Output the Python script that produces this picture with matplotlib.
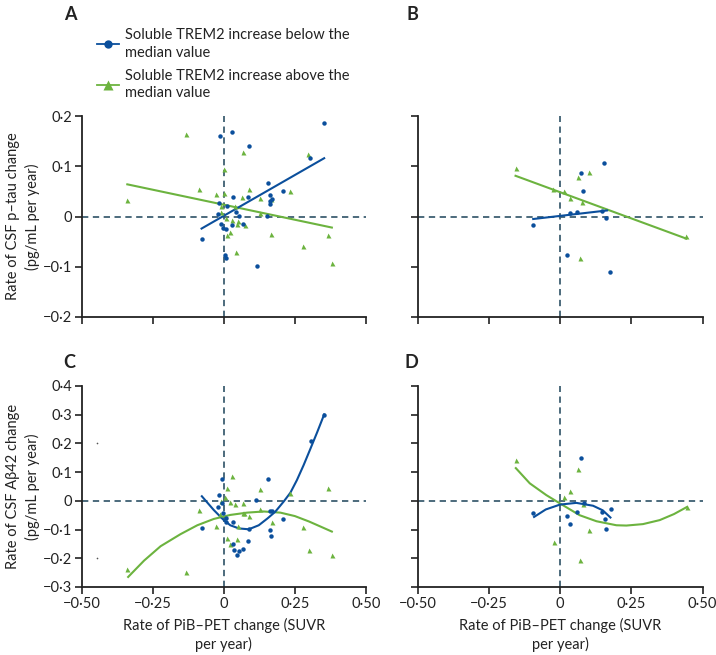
#!/usr/bin/env python3
"""
Four-panel scatter: PiB-PET change vs CSF p-tau / Abeta42 change,
split by soluble TREM2 increase below/above the median.
Saves out.png (716x655).
"""

import matplotlib
matplotlib.use("Agg")
import matplotlib.pyplot as plt
from matplotlib.ticker import FuncFormatter
from matplotlib.lines import Line2D

plt.rcParams["font.family"] = ["Lato", "DejaVu Sans"]

BLUE = "#0b4f9c"
GREEN = "#6cb33f"
REF = "#3e5f72"
SPINE = "#222222"

# ---- Panel A: p-tau, all participants ----
a_blue_x = [-0.014, 0.030, 0.087, 0.353, 0.304, 0.156, 0.208, 0.161, 0.171, 0.164,
            0.164, 0.034, 0.084, -0.018, 0.011, -0.019, 0.044, 0.054, 0.153, -0.009,
            0.030, 0.067, -0.001, 0.007, -0.078, 0.004, 0.008, 0.116]
a_blue_y = [0.160, 0.168, 0.141, 0.187, 0.117, 0.066, 0.050, 0.042, 0.034, 0.030,
            0.024, 0.038, 0.038, 0.026, 0.020, 0.005, 0.009, 0.001, 0.001, -0.014,
            -0.017, -0.014, -0.022, -0.025, -0.044, -0.077, -0.082, -0.099]
a_green_x = [-0.132, -0.339, -0.088, -0.028, 0.002, 0.002, 0.068, 0.088, 0.065, 0.126,
             0.165, 0.233, 0.297, -0.008, 0.041, 0.008, 0.028, 0.050, 0.048, 0.074,
             0.021, 0.011, 0.129, 0.166, 0.043, 0.277, 0.366, 0.380, -0.009]
a_green_y = [0.164, 0.033, 0.055, 0.044, 0.095, 0.047, 0.129, 0.055, 0.039, 0.037,
             0.035, 0.050, 0.124, 0.020, 0.021, -0.003, -0.007, -0.008, -0.015, -0.017,
             -0.031, -0.036, 0.006, -0.034, -0.071, -0.059, -0.036, -0.092, 0.009]
a_blue_fit_x = [-0.078, 0.353]
a_blue_fit_y = [-0.024, 0.116]
a_green_fit_x = [-0.339, 0.380]
a_green_fit_y = [0.064, -0.022]

# ---- Panel B: p-tau, subgroup ----
b_blue_x = [0.156, 0.074, 0.082, 0.035, 0.058, 0.146, 0.160, -0.094, 0.025, 0.177]
b_blue_y = [0.107, 0.086, 0.051, 0.006, 0.009, 0.011, -0.003, -0.017, -0.077, -0.111]
b_green_x = [-0.156, 0.102, 0.062, 0.014, -0.025, 0.035, 0.076, 0.069, 0.443]
b_green_y = [0.097, 0.088, 0.079, 0.051, 0.054, 0.036, 0.028, -0.082, -0.038]
b_blue_fit_x = [-0.094, 0.165]
b_blue_fit_y = [-0.005, 0.012]
b_green_fit_x = [-0.156, 0.443]
b_green_fit_y = [0.081, -0.044]

# ---- Panel C: Abeta42, all participants ----
c_blue_x = [-0.007, 0.154, -0.016, 0.115, -0.019, -0.006, -0.002, 0.007, 0.009, 0.032,
            -0.077, 0.088, 0.163, 0.171, 0.208, 0.161, 0.166, 0.086, 0.032, 0.035,
            0.054, 0.067, 0.045, 0.354, 0.305]
c_blue_y = [0.077, 0.075, 0.021, 0.002, -0.023, -0.009, -0.042, -0.058, -0.073, -0.073,
            -0.095, -0.099, -0.034, -0.035, -0.064, -0.102, -0.121, -0.140, -0.149, -0.172,
            -0.174, -0.168, -0.187, 0.300, 0.209]
c_green_x = [0.028, 0.012, 0.126, 0.004, -0.009, 0.021, 0.041, 0.068, -0.012, -0.086,
             0.068, 0.072, 0.088, 0.129, 0.170, -0.027, 0.049, 0.012, 0.045, 0.021,
             -0.132, -0.339, 0.233, 0.366, 0.277, 0.298, 0.380]
c_green_y = [0.086, 0.044, 0.042, 0.012, -0.002, -0.005, -0.010, -0.006, -0.046, -0.031,
             -0.042, -0.044, -0.051, -0.028, -0.074, -0.087, -0.086, -0.128, -0.134, -0.151,
             -0.248, -0.237, 0.026, 0.046, -0.091, -0.172, -0.189]
c_stray_x = [-0.444, -0.444]
c_stray_y = [0.201, -0.200]
c_blue_fit_x = [-0.077, -0.035, -0.002, 0.023, 0.053, 0.088, 0.123, 0.154, 0.181,
                0.211, 0.234, 0.257, 0.281, 0.304, 0.328, 0.353]
c_blue_fit_y = [0.016, -0.032, -0.065, -0.085, -0.096, -0.099, -0.085, -0.061, -0.038,
                -0.002, 0.028, 0.072, 0.125, 0.180, 0.238, 0.301]
c_green_fit_x = [-0.336, -0.280, -0.222, -0.152, -0.093, -0.035, 0.023, 0.082, 0.140,
                 0.199, 0.250, 0.300, 0.339, 0.380]
c_green_fit_y = [-0.265, -0.208, -0.158, -0.116, -0.085, -0.063, -0.049, -0.041, -0.037,
                 -0.041, -0.053, -0.072, -0.089, -0.107]

# ---- Panel D: Abeta42, subgroup ----
d_blue_x = [0.075, 0.083, -0.094, 0.060, 0.026, 0.035, 0.147, 0.178, 0.157, 0.161]
d_blue_y = [0.149, -0.006, -0.041, -0.038, -0.053, -0.079, -0.038, -0.029, -0.064, -0.097]
d_green_x = [-0.156, 0.064, 0.036, 0.015, -0.022, 0.103, 0.069, 0.446, 0.080]
d_green_y = [0.144, 0.112, 0.034, 0.015, -0.143, -0.102, -0.205, -0.022, -0.012]
d_blue_fit_x = [-0.091, -0.050, 0.000, 0.057, 0.116, 0.150, 0.177]
d_blue_fit_y = [-0.056, -0.030, -0.013, -0.007, -0.017, -0.033, -0.058]
d_green_fit_x = [-0.155, -0.106, -0.048, 0.000, 0.069, 0.128, 0.198, 0.233, 0.291,
                 0.350, 0.400, 0.446]
d_green_fit_y = [0.114, 0.061, 0.020, -0.009, -0.050, -0.071, -0.085, -0.086, -0.081,
                 -0.067, -0.046, -0.021]

x_ticks = [-0.50, -0.25, 0, 0.25, 0.50]
y_ticks_tau = [-0.2, -0.1, 0, 0.1, 0.2]
y_ticks_ab = [-0.3, -0.2, -0.1, 0, 0.1, 0.2, 0.3, 0.4]

legend_labels = ["Soluble TREM2 increase below the\nmedian value",
                 "Soluble TREM2 increase above the\nmedian value"]
ylabel_tau = "Rate of CSF p\u2013tau change\n(pg/mL per year)"
ylabel_ab = "Rate of CSF A\u03b242 change\n(pg/mL per year)"
xlabel = "Rate of PiB\u2013PET change (SUVR\nper year)"


def fmt(decimals):
    def f(v, pos):
        if abs(v) < 1e-9:
            return "0"
        s = f"{v:.{decimals}f}".replace(".", "\u00b7")
        return s.replace("-", "\u2212")
    return f


def style(ax, ylim, yticks, show_xlabels, show_ylabels):
    ax.set_xlim(-0.5, 0.5)
    ax.set_ylim(*ylim)
    ax.set_xticks(x_ticks)
    ax.set_yticks(yticks)
    for s in ("top", "right"):
        ax.spines[s].set_visible(False)
    for s in ("left", "bottom"):
        ax.spines[s].set_color(SPINE)
        ax.spines[s].set_linewidth(1.3)
    ax.tick_params(direction="out", length=5, width=1.2, color=SPINE,
                   labelsize=10.5, labelcolor="#222222", pad=2)
    ax.xaxis.set_major_formatter(FuncFormatter(fmt(2)))
    ax.yaxis.set_major_formatter(FuncFormatter(fmt(1)))
    if not show_xlabels:
        ax.tick_params(axis="x", labelbottom=False)
    if not show_ylabels:
        ax.tick_params(axis="y", labelleft=False)
    ax.axhline(0, color=REF, lw=1.3, ls=(0, (3.5, 2.5)), zorder=1)
    ax.axvline(0, color=REF, lw=1.3, ls=(0, (3.5, 2.5)), zorder=1)


def draw(ax, bx, by, gx, gy, bfx, bfy, gfx, gfy):
    ax.plot(gfx, gfy, color=GREEN, lw=1.5, zorder=2, solid_joinstyle="round")
    ax.plot(bfx, bfy, color=BLUE, lw=1.5, zorder=3, solid_joinstyle="round")
    ax.plot(gx, gy, ls="none", marker="^", ms=3.6, color=GREEN, mec="none", zorder=4)
    ax.plot(bx, by, ls="none", marker="o", ms=3.2, color=BLUE, mec="none", zorder=5)


fig = plt.figure(figsize=(7.16, 6.55), dpi=100)
W, H = 716.0, 655.0


def axes_px(left, top, right, bottom):
    return fig.add_axes([left / W, 1 - bottom / H, (right - left) / W, (bottom - top) / H])


axA = axes_px(81.5, 116, 366, 317)
axB = axes_px(417.5, 116, 702.5, 317)
axC = axes_px(81.5, 386, 366, 587)
axD = axes_px(417.5, 386, 702.5, 587)

style(axA, (-0.2, 0.2), y_ticks_tau, False, True)
style(axB, (-0.2, 0.2), y_ticks_tau, False, False)
style(axC, (-0.3, 0.4), y_ticks_ab, True, True)
style(axD, (-0.3, 0.4), y_ticks_ab, True, False)

draw(axA, a_blue_x, a_blue_y, a_green_x, a_green_y,
     a_blue_fit_x, a_blue_fit_y, a_green_fit_x, a_green_fit_y)
draw(axB, b_blue_x, b_blue_y, b_green_x, b_green_y,
     b_blue_fit_x, b_blue_fit_y, b_green_fit_x, b_green_fit_y)
draw(axC, c_blue_x, c_blue_y, c_green_x, c_green_y,
     c_blue_fit_x, c_blue_fit_y, c_green_fit_x, c_green_fit_y)
draw(axD, d_blue_x, d_blue_y, d_green_x, d_green_y,
     d_blue_fit_x, d_blue_fit_y, d_green_fit_x, d_green_fit_y)
axC.plot(c_stray_x, c_stray_y, ls="none", marker="o", ms=1.2, color="#555555", mec="none")

# axis titles
for ax, lab in ((axA, ylabel_tau), (axC, ylabel_ab)):
    ax.set_ylabel(lab, fontsize=10.5, color="#222222", labelpad=2, linespacing=1.4)
for ax in (axC, axD):
    ax.set_xlabel(xlabel, fontsize=10.5, color="#222222", labelpad=5, linespacing=1.35)

# panel letters
for x, y, t in ((64, 20, "A"), (406, 20, "B"), (63, 368, "C"), (405, 368, "D")):
    fig.text(x / W, 1 - y / H, t, fontsize=13, fontweight="bold", color="#222222",
             va="baseline")

# legend
handles = [Line2D([], [], color=BLUE, lw=1.3, marker="o", ms=6, mec="none"),
           Line2D([], [], color=GREEN, lw=1.3, marker="^", ms=6.5, mec="none")]
leg = fig.legend(handles, legend_labels, loc="upper left",
                 bbox_to_anchor=(97 / W, 1 - 28 / H),
                 frameon=False, fontsize=10.5, handlelength=1.5, handletextpad=0.45,
                 labelspacing=0.6, borderaxespad=0, borderpad=0, labelcolor="#222222")
for t in leg.get_texts():
    t.set_linespacing(1.35)

fig.savefig("out.png", dpi=100)
